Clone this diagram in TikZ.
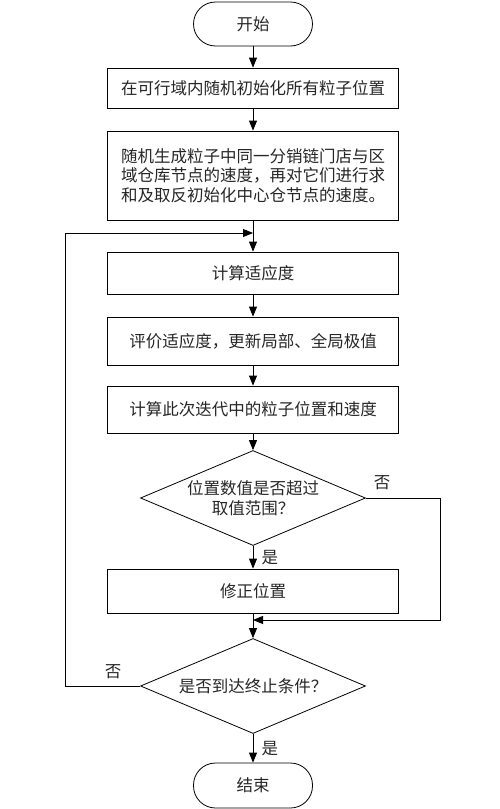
\documentclass[tikz,border=0pt]{standalone}
\usepackage{fontspec}
\newfontfamily\cjk{Noto Sans CJK SC}
\usetikzlibrary{shapes.geometric,arrows.meta}

\begin{document}
\begin{tikzpicture}[x=1pt,y=1pt,
  every node/.style={font=\cjk\fontsize{16.5}{19.5}\selectfont, text=black!85},
  proc/.style={draw, line width=0.8pt, minimum width=291pt, minimum height=42pt, inner sep=0pt, align=center},
  term/.style={draw, line width=0.8pt, rounded corners=22pt, minimum width=119pt, minimum height=44pt},
  test/.style={draw, diamond, aspect=2.37, line width=0.8pt, inner sep=0pt, minimum width=225pt, minimum height=95pt, align=center},
  arr/.style={line width=0.8pt, -{Triangle[length=10pt,width=8pt]}}]
  \useasboundingbox (0,0) rectangle (500,-809);

  \node[term] (start) at (253,-24) {开始};
  \node[proc, minimum height=40pt] (init) at (253,-88) {在可行域内随机初始化所有粒子位置};
  \node[proc, minimum height=89pt] (vel) at (253,-175.5) {随机生成粒子中同一分销链门店与区\\域仓库节点的速度，再对它们进行求\\和及取反初始化中心仓节点的速度。};
  \node[proc] (fit) at (253,-273) {计算适应度};
  \node[proc, minimum height=48pt] (eval) at (253,-341) {评价适应度，更新局部、全局极值};
  \node[proc, minimum height=47pt] (move) at (253,-409.5) {计算此次迭代中的粒子位置和速度};
  \node[test] (chk) at (253,-498) {位置数值是否超过\\取值范围？};
  \node[proc, minimum height=44pt] (fix) at (253,-591) {修正位置};
  \node[test] (stop) at (253,-686) {是否到达终止条件？};
  \node[term, minimum height=45pt] (end) at (253,-785.5) {结束};

  \coordinate (back) at (253,-233);
  \coordinate (join) at (253,-620);

  \draw[arr] (start) -- (init);
  \draw[arr] (init) -- (vel);
  \draw[arr] (vel) -- (fit);
  \draw[arr] (fit) -- (eval);
  \draw[arr] (eval) -- (move);
  \draw[arr] (move) -- (chk);
  \draw[arr] (chk) -- node[right, xshift=5pt] (yes1) {是} (fix);
  \draw[arr] (fix) -- (stop);
  \draw[arr] (stop) -- node[right, xshift=5pt] (yes2) {是} (end);

  % loops back
  \draw[arr] (chk.east) -- ++(74,0) |- (join);
  \draw[arr] (stop.west) -- ++(-75,0) |- (back);
  \node (no1) at (382,-483) {否};
  \node (no2) at (113,-672) {否};
\end{tikzpicture}
\end{document}
